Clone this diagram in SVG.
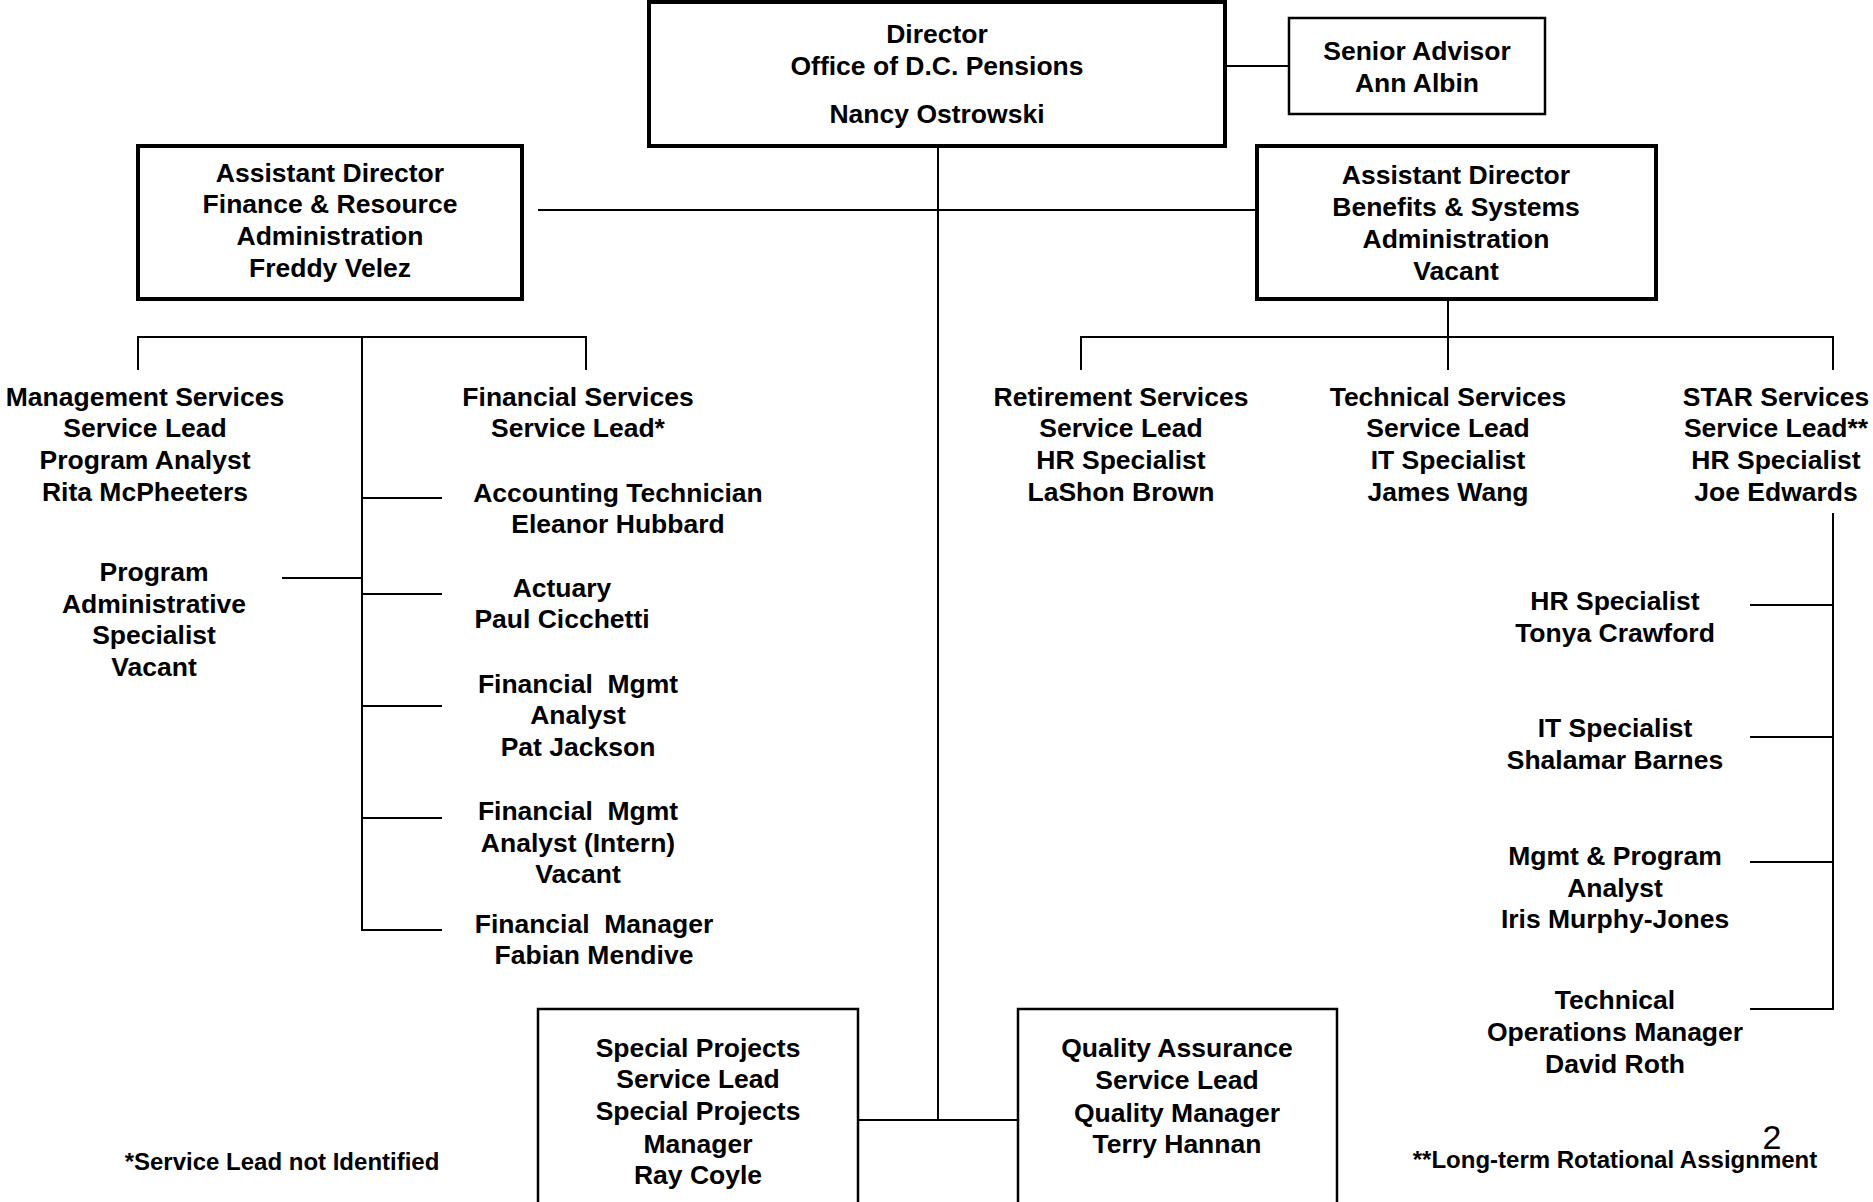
<svg xmlns="http://www.w3.org/2000/svg" width="1873" height="1202" viewBox="0 0 1873 1202">
<style>
text{font-family:"Liberation Sans",Arial,sans-serif;font-weight:bold;font-size:26.5px;text-anchor:middle;fill:#000}
.foot{font-size:24px}
.num{font-weight:normal;font-size:34px}
.box{fill:#fff;stroke:#000}
.thick{stroke-width:4}
.thin{stroke-width:2.5}
.ln{stroke:#000;stroke-width:2;fill:none}
</style>
<rect width="1873" height="1202" fill="#fff"/>
<g id="connectors">
<path class="ln" d="M938 146V1120M1225 66H1289M538 210H1256"/>
<path class="ln" d="M1448 300V370M1081 370V337H1833V370"/>
<path class="ln" d="M138 370V337H586V370M362 337V930H442M362 498H442M362 594H442M362 706H442M362 818H442M282 578H362"/>
<path class="ln" d="M1833 513V1009H1750M1750 605H1833M1750 737H1833M1750 862H1833"/>
<path class="ln" d="M858 1120H1018"/>
</g>
<g id="director">
<rect class="box thick" x="649" y="2" width="576" height="144"/>
<text x="937" y="43">Director</text>
<text x="937" y="75">Office of D.C. Pensions</text>
<text x="937" y="123">Nancy Ostrowski</text>
</g>
<g id="senior-advisor">
<rect class="box thin" x="1289" y="18" width="256" height="96"/>
<text x="1417" y="60">Senior Advisor</text>
<text x="1417" y="92">Ann Albin</text>
</g>
<g id="ad-finance">
<rect class="box thick" x="138" y="146" width="384" height="153"/>
<text x="330" y="182">Assistant Director</text>
<text x="330" y="213">Finance &amp; Resource</text>
<text x="330" y="245">Administration</text>
<text x="330" y="277">Freddy Velez</text>
</g>
<g id="ad-benefits">
<rect class="box thick" x="1257" y="146" width="399" height="153"/>
<text x="1456" y="184">Assistant Director</text>
<text x="1456" y="216">Benefits &amp; Systems</text>
<text x="1456" y="248">Administration</text>
<text x="1456" y="280">Vacant</text>
</g>
<g id="management-services">
<text x="145" y="406">Management Services</text>
<text x="145" y="437">Service Lead</text>
<text x="145" y="469">Program Analyst</text>
<text x="145" y="501">Rita McPheeters</text>
</g>
<g id="program-admin">
<text x="154" y="581">Program</text>
<text x="154" y="613">Administrative</text>
<text x="154" y="644">Specialist</text>
<text x="154" y="676">Vacant</text>
</g>
<g id="financial-services">
<text x="578" y="406">Financial Services</text>
<text x="578" y="437">Service Lead*</text>
</g>
<g id="accounting-tech">
<text x="618" y="502">Accounting Technician</text>
<text x="618" y="533">Eleanor Hubbard</text>
</g>
<g id="actuary">
<text x="562" y="597">Actuary</text>
<text x="562" y="628">Paul Cicchetti</text>
</g>
<g id="fin-mgmt-analyst">
<text x="578" y="693" xml:space="preserve">Financial  Mgmt</text>
<text x="578" y="724">Analyst</text>
<text x="578" y="756">Pat Jackson</text>
</g>
<g id="fin-mgmt-intern">
<text x="578" y="820" xml:space="preserve">Financial  Mgmt</text>
<text x="578" y="852">Analyst (Intern)</text>
<text x="578" y="883">Vacant</text>
</g>
<g id="financial-manager">
<text x="594" y="933" xml:space="preserve">Financial  Manager</text>
<text x="594" y="964">Fabian Mendive</text>
</g>
<g id="retirement-services">
<text x="1121" y="406">Retirement Services</text>
<text x="1121" y="437">Service Lead</text>
<text x="1121" y="469">HR Specialist</text>
<text x="1121" y="501">LaShon Brown</text>
</g>
<g id="technical-services">
<text x="1448" y="406">Technical Services</text>
<text x="1448" y="437">Service Lead</text>
<text x="1448" y="469">IT Specialist</text>
<text x="1448" y="501">James Wang</text>
</g>
<g id="star-services">
<text x="1776" y="406">STAR Services</text>
<text x="1776" y="437">Service Lead**</text>
<text x="1776" y="469">HR Specialist</text>
<text x="1776" y="501">Joe Edwards</text>
</g>
<g id="hr-specialist">
<text x="1615" y="610">HR Specialist</text>
<text x="1615" y="642">Tonya Crawford</text>
</g>
<g id="it-specialist">
<text x="1615" y="737">IT Specialist</text>
<text x="1615" y="769">Shalamar Barnes</text>
</g>
<g id="mgmt-program-analyst">
<text x="1615" y="865">Mgmt &amp; Program</text>
<text x="1615" y="897">Analyst</text>
<text x="1615" y="928">Iris Murphy-Jones</text>
</g>
<g id="tech-ops-manager">
<text x="1615" y="1009">Technical</text>
<text x="1615" y="1041">Operations Manager</text>
<text x="1615" y="1073">David Roth</text>
</g>
<g id="special-projects">
<rect class="box thin" x="538" y="1009" width="320" height="210"/>
<text x="698" y="1057">Special Projects</text>
<text x="698" y="1088">Service Lead</text>
<text x="698" y="1120">Special Projects</text>
<text x="698" y="1153">Manager</text>
<text x="698" y="1184">Ray Coyle</text>
</g>
<g id="quality-assurance">
<rect class="box thin" x="1018" y="1009" width="319" height="210"/>
<text x="1177" y="1057">Quality Assurance</text>
<text x="1177" y="1089">Service Lead</text>
<text x="1177" y="1122">Quality Manager</text>
<text x="1177" y="1153">Terry Hannan</text>
</g>
<g id="notes">
<text class="foot" x="282" y="1170">*Service Lead not Identified</text>
<text class="foot" x="1615" y="1168">**Long-term Rotational Assignment</text>
<text class="num" x="1772" y="1149">2</text>
</g>
</svg>
